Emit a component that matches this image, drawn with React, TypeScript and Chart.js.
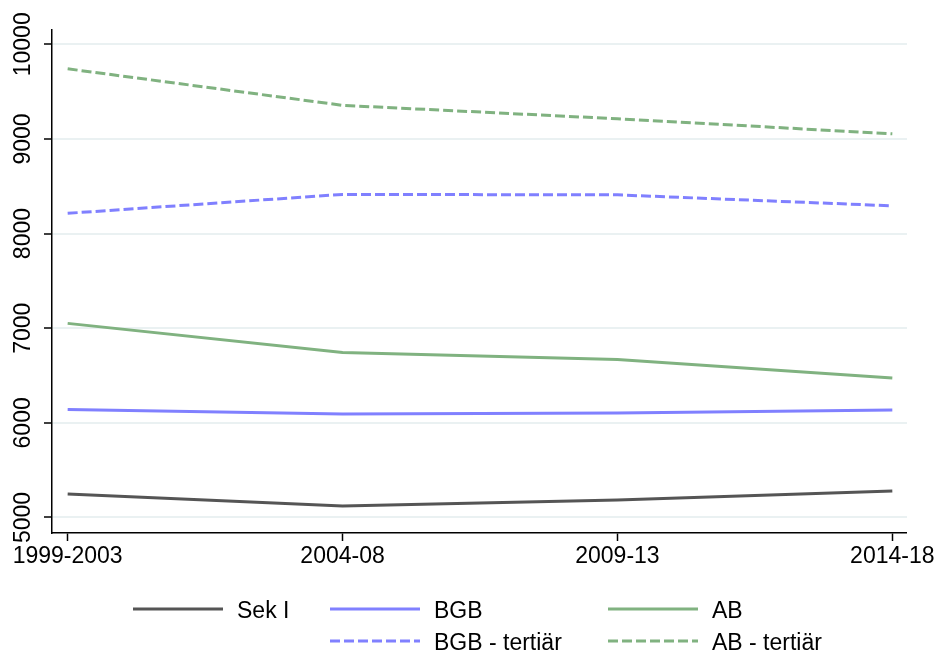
import React, { useEffect, useRef } from "react";
import { Chart, registerables } from "chart.js";

Chart.register(...registerables);

const categories = ["1999-2003", "2004-08", "2009-13", "2014-18"];
const sekI = [5248, 5122, 5185, 5280];
const bgb = [6142, 6094, 6105, 6136];
const ab = [7051, 6744, 6670, 6475];
const bgbTert = [8214, 8414, 8409, 8293];
const abTert = [9741, 9355, 9213, 9054];
const yTicks = [5000, 6000, 7000, 8000, 9000, 10000];

const GRAY = "#555555";
const BLUE = "#8080ff";
const GREEN = "#80b280";
const FONT = "'Liberation Sans', Arial, Helvetica, sans-serif";

const legendItems = [
  { label: "Sek I", color: GRAY, dash: [] as number[], col: 0, row: 0 },
  { label: "BGB", color: BLUE, dash: [] as number[], col: 1, row: 0 },
  { label: "AB", color: GREEN, dash: [] as number[], col: 2, row: 0 },
  { label: "BGB - tertiär", color: BLUE, dash: [10, 4], col: 1, row: 1 },
  { label: "AB - tertiär", color: GREEN, dash: [10, 4], col: 2, row: 1 },
];

const toPts = (arr: number[]) => arr.map((v, i) => ({ x: i, y: v }));

export default function App() {
  const ref = useRef<HTMLCanvasElement | null>(null);
  useEffect(() => {
    if (!ref.current) return;
    const customPlugin = {
      id: "custom",
      afterDraw(chart: any) {
        const ctx = chart.ctx;
        const y = chart.scales.y;
        ctx.save();
        // y tick labels rotated
        ctx.fillStyle = "#000";
        ctx.font = `23px ${FONT}`;
        ctx.textAlign = "center";
        ctx.textBaseline = "middle";
        yTicks.forEach((t) => {
          const py = y.getPixelForValue(t);
          ctx.save();
          ctx.translate(24, py);
          ctx.rotate(-Math.PI / 2);
          ctx.fillText(String(t), 0, 0);
          ctx.restore();
        });
        // legend
        const colLineX = [133, 330, 608];
        const rowLineY = [609, 641];
        legendItems.forEach((it) => {
          const lx = colLineX[it.col];
          const ly = rowLineY[it.row];
          ctx.beginPath();
          ctx.setLineDash(it.dash);
          ctx.strokeStyle = it.color;
          ctx.lineWidth = 3;
          ctx.moveTo(lx, ly);
          ctx.lineTo(lx + 90, ly);
          ctx.stroke();
          ctx.setLineDash([]);
          ctx.fillStyle = "#000";
          ctx.textAlign = "left";
          ctx.textBaseline = "alphabetic";
          ctx.fillText(it.label, lx + 104, ly + 9);
        });
        ctx.restore();
      },
    };
    const mk = (label: string, data: number[], color: string, dash: number[]) => ({
      label,
      data: toPts(data),
      borderColor: color,
      backgroundColor: color,
      borderWidth: 3,
      borderDash: dash,
      pointRadius: 0,
      tension: 0,
      fill: false,
    });
    const chart = new Chart(ref.current, {
      type: "line",
      data: {
        datasets: [
          mk("Sek I", sekI, GRAY, []),
          mk("BGB", bgb, BLUE, []),
          mk("AB", ab, GREEN, []),
          mk("BGB - tertiär", bgbTert, BLUE, [10, 4]),
          mk("AB - tertiär", abTert, GREEN, [10, 4]),
        ],
      },
      options: {
        animation: false,
        responsive: false,
        maintainAspectRatio: false,
        layout: { padding: { left: 0, top: 30, right: 28, bottom: 0 } },
        plugins: { legend: { display: false }, tooltip: { enabled: false } },
        scales: {
          x: {
            type: "linear",
            min: -0.05698,
            max: 3.0533,
            afterBuildTicks: (s: any) => {
              s.ticks = categories.map((_, i) => ({ value: i }));
            },
            afterFit: (s: any) => {
              s.height = 122;
            },
            ticks: {
              color: "#000",
              font: { family: FONT, size: 23 },
              padding: 2,
              maxRotation: 0,
              minRotation: 0,
              autoSkip: false,
              callback: (v: any) => categories[Math.round(Number(v))] ?? "",
            },
            grid: {
              drawOnChartArea: false,
              drawTicks: true,
              tickLength: 8,
              tickColor: "#000",
              tickWidth: 1.5,
            },
            border: { display: true, color: "#000", width: 1.5 },
          },
          y: {
            type: "linear",
            min: 4836,
            max: 10151,
            afterBuildTicks: (s: any) => {
              s.ticks = yTicks.map((v) => ({ value: v }));
            },
            afterFit: (s: any) => {
              s.width = 52;
            },
            ticks: { display: false },
            grid: {
              color: "#eaf1f2",
              lineWidth: 2,
              drawTicks: true,
              tickLength: 8,
              tickColor: "#000",
              tickWidth: 1.5,
            },
            border: { display: true, color: "#000", width: 1.5 },
          },
        },
      },
      plugins: [customPlugin],
    } as any);
    return () => chart.destroy();
  }, []);
  return (
    <div style={{ position: "absolute", left: 0, top: 0, width: 937, height: 655, background: "#fff" }}>
      <canvas ref={ref} width={937} height={655} style={{ display: "block" }} />
    </div>
  );
}
